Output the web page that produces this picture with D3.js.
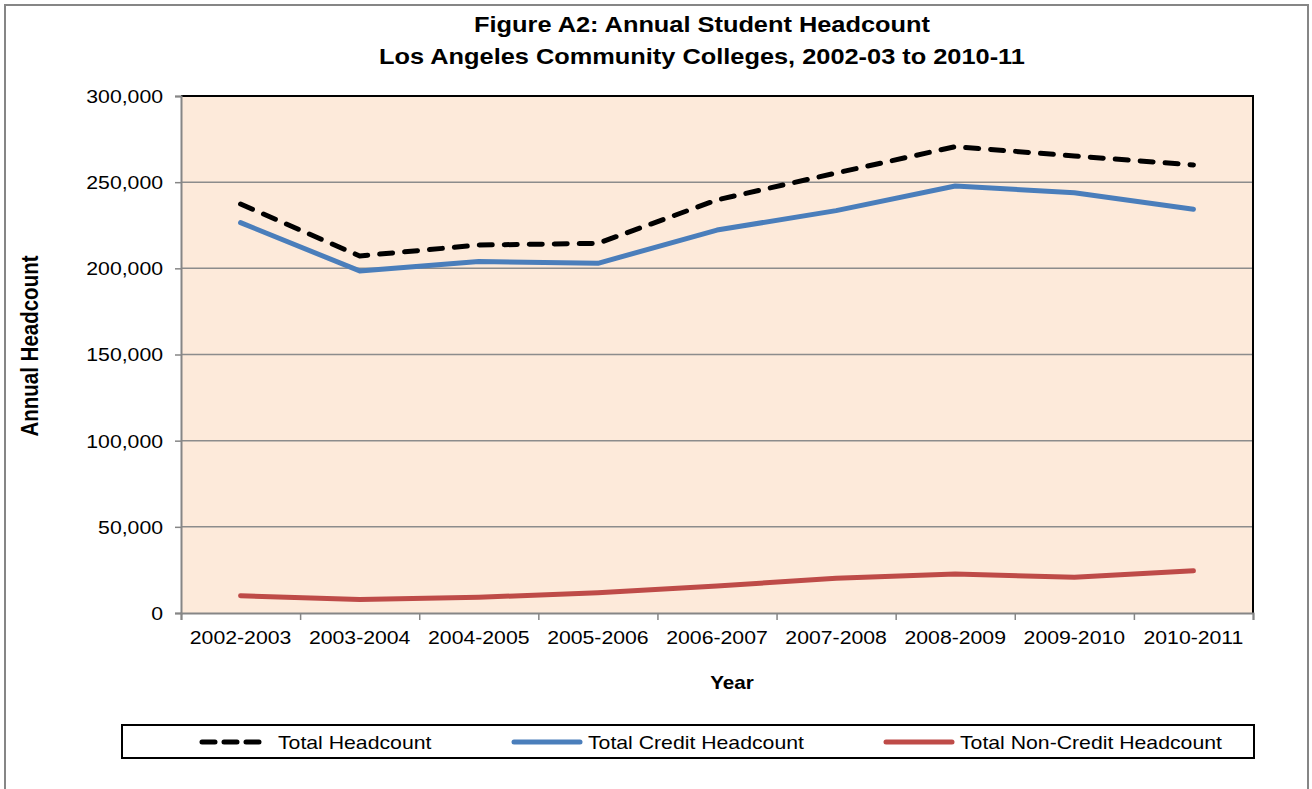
<!DOCTYPE html>
<html>
<head>
<meta charset="utf-8">
<script src="https://cdn.jsdelivr.net/npm/d3@7"></script>
<style>
  body { margin: 0; background: #fff; }
  svg text { font-family: "Liberation Sans", Arial, sans-serif; fill: #000; }
</style>
</head>
<body>
<svg id="chart" width="1312" height="789"></svg>
<script>
const years = ['2002-2003', '2003-2004', '2004-2005', '2005-2006', '2006-2007',
  '2007-2008', '2008-2009', '2009-2010', '2010-2011'];
const totalHeadcount = [237300, 207200, 213500, 214500, 239700, 255300, 270600, 265200, 260000];
const creditHeadcount = [226500, 198500, 203900, 202900, 222200, 233500, 247800, 243900, 234300];
const nonCreditHeadcount = [10000, 7900, 9100, 11800, 15700, 20100, 22600, 20700, 24500];
const yTicks = [0, 50000, 100000, 150000, 200000, 250000, 300000];
const legendNames = ['Total Headcount', 'Total Credit Headcount', 'Total Non-Credit Headcount'];

const SX = 1.18; // the reference is a little wider than tall, stretch text to match
const plot = { left: 181, right: 1253, top: 96, bottom: 613 };

const svg = d3.select('#chart');

// outer chart frame
svg.append('rect')
  .attr('x', 5).attr('y', 5)
  .attr('width', 1303).attr('height', 820)
  .attr('fill', '#fff')
  .attr('stroke', '#868686')
  .attr('stroke-width', 2);

const x = d3.scaleBand().domain(years).range([plot.left, plot.right]);
const xEdge = d3.scaleLinear().domain([0, years.length]).range([plot.left, plot.right]);
const y = d3.scaleLinear().domain([0, 300000]).range([plot.bottom, plot.top]);

// plot background
svg.append('rect')
  .attr('x', plot.left).attr('y', plot.top)
  .attr('width', plot.right - plot.left).attr('height', plot.bottom - plot.top)
  .attr('fill', '#fdeada');

// gridlines
svg.append('g')
  .selectAll('line').data(yTicks.filter(d => d > 0 && d < 300000))
  .join('line')
  .attr('x1', plot.left).attr('x2', plot.right)
  .attr('y1', d => y(d)).attr('y2', d => y(d))
  .attr('stroke', '#8c8c8c').attr('stroke-width', 1.5);

// plot border top / right
svg.append('path')
  .attr('d', `M${plot.left},${plot.top}H${plot.right}V${plot.bottom}`)
  .attr('fill', 'none').attr('stroke', '#000').attr('stroke-width', 2);

function stretch(sel) {
  sel.each(function () {
    const t = d3.select(this);
    const tx = +t.attr('x') || 0;
    t.attr('x', tx / SX).attr('transform', `scale(${SX},1)`);
  });
}

// y axis
const yAxis = svg.append('g')
  .attr('transform', `translate(${plot.left},0)`)
  .call(d3.axisLeft(y).tickValues(yTicks).tickFormat(d3.format(',')).tickSize(6).tickPadding(12));
yAxis.select('.domain').attr('stroke', '#868686').attr('stroke-width', 2);
yAxis.selectAll('.tick line').attr('stroke', '#868686').attr('stroke-width', 1.5);
yAxis.selectAll('text').style('font-size', '18px').attr('dy', '0.36em');
stretch(yAxis.selectAll('text'));

// x axis: tick marks at category edges, labels at centres
const xMarks = svg.append('g')
  .attr('transform', `translate(0,${plot.bottom})`)
  .call(d3.axisBottom(xEdge).tickValues(d3.range(years.length + 1)).tickFormat('').tickSize(7));
xMarks.select('.domain').attr('stroke', '#868686').attr('stroke-width', 2);
xMarks.selectAll('.tick line').attr('stroke', '#868686').attr('stroke-width', 1.5);

const xLabels = svg.append('g')
  .attr('transform', `translate(0,${plot.bottom})`)
  .call(d3.axisBottom(x).tickSize(0).tickPadding(18));
xLabels.select('.domain').remove();
xLabels.selectAll('text').style('font-size', '18px').attr('dy', '0.71em');
stretch(xLabels.selectAll('text'));

// lines
const series = [
  { name: legendNames[0], values: totalHeadcount, color: '#000', dash: '13,12', cap: 'round' },
  { name: legendNames[1], values: creditHeadcount, color: '#4a7ebb', dash: null, cap: 'round' },
  { name: legendNames[2], values: nonCreditHeadcount, color: '#be4b48', dash: null, cap: 'round' }
];

const line = d3.line()
  .x((d, i) => x(years[i]) + x.bandwidth() / 2)
  .y(d => y(d));

svg.append('g').selectAll('path').data(series.slice().reverse())
  .join('path')
  .attr('d', d => line(d.values))
  .attr('fill', 'none')
  .attr('stroke', d => d.color)
  .attr('stroke-width', 5)
  .attr('stroke-linecap', d => d.cap)
  .attr('stroke-linejoin', 'round')
  .attr('stroke-dasharray', d => d.dash);

// titles
function addText(str, tx, ty, size, bold, anchor) {
  return svg.append('text')
    .attr('transform', `translate(${tx},${ty}) scale(${SX},1)`)
    .attr('text-anchor', anchor || 'middle')
    .style('font-size', size + 'px')
    .style('font-weight', bold ? 'bold' : 'normal')
    .text(str);
}

addText('Figure A2: Annual Student Headcount', 702, 32, 21.5, true);
addText('Los Angeles Community Colleges, 2002-03 to 2010-11', 702, 64, 21.5, true);
addText('Year', 732, 689, 17.5, true);

svg.append('text')
  .attr('transform', 'translate(38,346) rotate(-90) scale(1,' + SX + ')')
  .attr('text-anchor', 'middle')
  .style('font-size', '20.5px')
  .style('font-weight', 'bold')
  .text('Annual Headcount');

// legend
svg.append('rect')
  .attr('x', 122).attr('y', 725)
  .attr('width', 1132).attr('height', 33)
  .attr('fill', '#fff').attr('stroke', '#000').attr('stroke-width', 2);

const legendX = [202, 514, 886];
const legend = svg.append('g').selectAll('g').data(series)
  .join('g')
  .attr('transform', (d, i) => `translate(${legendX[i]},742)`);

legend.append('line')
  .attr('x1', 0).attr('x2', (d, i) => i === 0 ? 58 : 66)
  .attr('stroke', d => d.color)
  .attr('stroke-width', 5)
  .attr('stroke-linecap', 'round')
  .attr('stroke-dasharray', d => d.dash ? '13,9' : null);

legend.append('text')
  .attr('transform', (d, i) => `translate(${i === 0 ? 76 : 74},6.5) scale(${SX},1)`)
  .style('font-size', '18px')
  .text(d => d.name);
</script>
</body>
</html>
